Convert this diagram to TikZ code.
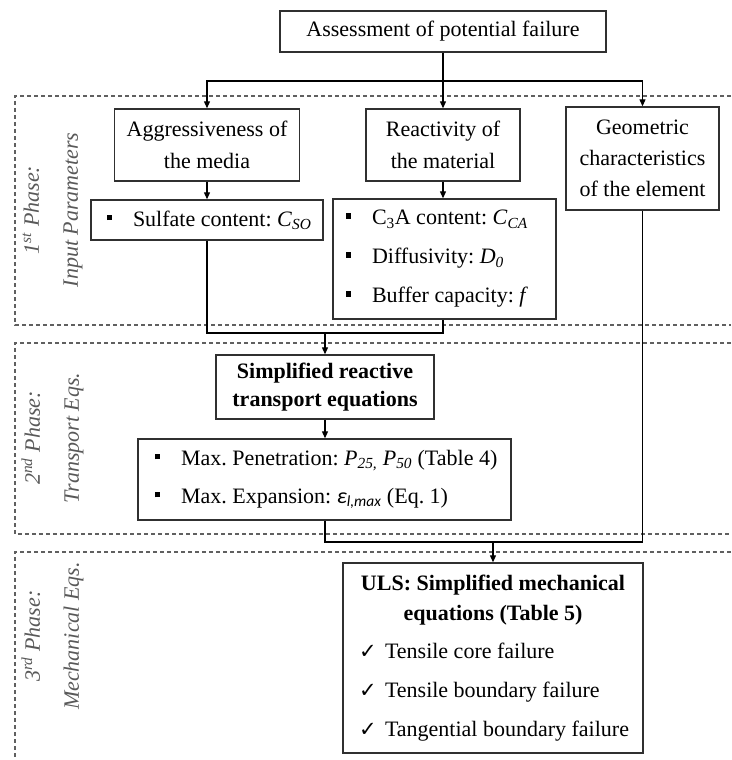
\documentclass[tikz,border=0pt]{standalone}
\usepackage{fontspec}
\setmainfont{Liberation Serif}
\newfontfamily\calib{Carlito}
\newfontfamily\dejavu{DejaVu Sans}
\usetikzlibrary{arrows.meta}
\definecolor{boxc}{HTML}{303030}
\definecolor{dashc}{HTML}{606060}
\definecolor{labc}{HTML}{595959}
\newcommand\bul{\makebox[26pt][l]{\rule[6pt]{5pt}{5.5pt}}}
\newcommand\chk{\makebox[26pt][l]{{\dejavu\fontsize{21}{21}\selectfont ✓}}}
\newcommand\lline[3]{\makebox[#1][l]{\hspace*{#2}#3}}
\begin{document}
\frenchspacing
\begin{tikzpicture}[x=1pt,y=-1pt,
  box/.style={draw=boxc, line width=1.4pt, inner sep=0pt, fill=white,
    font=\fontsize{22}{32}\selectfont, align=center},
  listbox/.style={box, align=left, inner sep=0pt},
  conn/.style={draw=black, line width=1.2pt},
  arr/.style={conn, -{Triangle[length=7pt,width=6pt]}},
  phase/.style={draw=dashc, line width=1.2pt, dash pattern=on 4pt off 3pt},
  plabel/.style={rotate=90, align=center, text=labc,
    font=\fontsize{22}{39}\selectfont\itshape}]
\useasboundingbox (0,0) rectangle (731,760);

% phase frames
\draw[phase] (731,96) -- (15,96) -- (15,325) -- (731,325);
\draw[phase] (731,343) -- (15,343) -- (15,534) -- (731,534);
\draw[phase] (731,552) -- (15,552) -- (15,760);

\node[plabel] (p1) at (52.5,210) {1\textsuperscript{st} Phase:\\Input Parameters};
\node[plabel] (p2) at (52.5,438) {2\textsuperscript{nd} Phase:\\Transport Eqs.};
\node[plabel] (p3) at (52.5,636) {3\textsuperscript{rd} Phase:\\Mechanical Eqs.};

% boxes
\node[box, minimum width=326pt, minimum height=41pt] (top) at (443,31.5)
  {Assessment of potential failure};
\node[box, minimum width=185pt, minimum height=72pt] (aggr) at (207,145)
  {Aggressiveness of\\the media};
\node[box, minimum width=154pt, minimum height=72pt] (react) at (443,145)
  {Reactivity of\\the material};
\node[box, minimum width=153pt, minimum height=103pt, font=\fontsize{22}{31}\selectfont] (geo) at (642.5,158.5)
  {Geometric\\characteristics\\of the element};
\node[listbox, minimum width=232pt, minimum height=40pt] (sulf) at (207,220)
  {\lline{232pt}{16pt}{\bul Sulfate content: \textit{C}\textsubscript{\textit{SO}}}};
\node[listbox, minimum width=223pt, minimum height=120pt,
  font=\fontsize{22}{39}\selectfont] (c3a) at (444.5,259)
  {\lline{223pt}{13pt}{\bul C\textsubscript{3}A content: \textit{C}\textsubscript{\textit{CA}}}\\
   \lline{223pt}{13pt}{\bul Diffusivity: \textit{D}\textsubscript{\textit{0}}}\\
   \lline{223pt}{13pt}{\bul Buffer capacity: \textit{f}}};
\node[box, minimum width=218pt, minimum height=64pt, font=\fontsize{22}{28}\selectfont\bfseries] (simp) at (325,387)
  {Simplified reactive\\transport equations};
\node[listbox, minimum width=373pt, minimum height=81pt,
  font=\fontsize{22}{38}\selectfont] (trans) at (324.5,479.5)
  {\lline{373pt}{17pt}{\bul Max. Penetration: \textit{P}\textsubscript{\textit{25,}} \textit{P}\textsubscript{\textit{50}} (Table 4)}\\
   \lline{373pt}{17pt}{\bul Max. Expansion: {\calib\itshape ε}\textsubscript{\calib\itshape l,max} (Eq. 1)}};
\node[box, minimum width=300pt, minimum height=190pt] (uls) at (493,658)
  {\begin{minipage}{284pt}\fontsize{22}{30}\selectfont
   {\centering\bfseries ULS: Simplified mechanical\\equations (Table 5)\par}
   \vspace{8pt}\raggedright
   \hspace*{8pt}\chk Tensile core failure\\[9pt]
   \hspace*{8pt}\chk Tensile boundary failure\\[9pt]
   \hspace*{8pt}\chk Tangential boundary failure
   \end{minipage}};

% connectors
\coordinate (t1) at (443,81);
\coordinate (j1) at (325,333);
\coordinate (j2) at (493,542);
\draw[arr] (top.south) -- (react.north);
\draw[arr] (t1) -| (aggr.north);
\draw[arr] (t1) -| (geo.north);
\draw[arr] (aggr.south) -- (sulf.north);
\draw[arr] (react.south) -- (c3a.north -| react.south);
\draw[conn] (sulf.south) |- (j1) -| (c3a.south -| react.south);
\draw[arr] (j1) -- (simp.north);
\draw[arr] (simp.south) -- (trans.north -| simp.south);
\draw[conn] (trans.south -| simp.south) |- (j2) -| (geo.south);
\draw[arr] (j2) -- (uls.north);
\end{tikzpicture}
\end{document}
